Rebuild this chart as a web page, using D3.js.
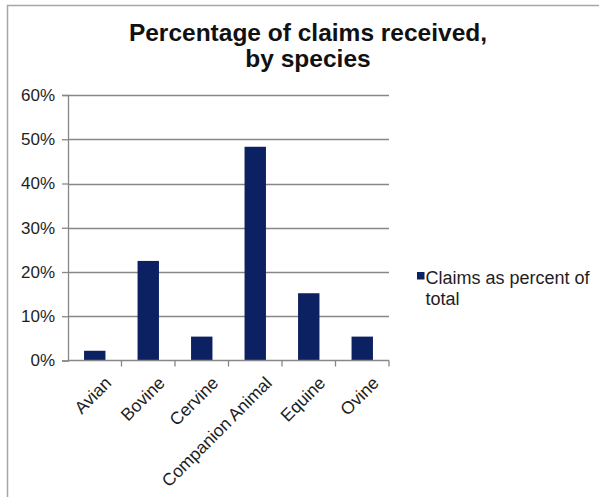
<!DOCTYPE html>
<html>
<head>
<meta charset="utf-8">
<script src="https://cdn.jsdelivr.net/npm/d3@7"></script>
<style>
  html, body { margin: 0; padding: 0; background: #fff; }
  svg { display: block; font-family: "Liberation Sans", Arial, sans-serif; }
</style>
</head>
<body>
<svg id="chart" width="599" height="497"></svg>
<script>
// Share of claims received, by species
const categories = ["Avian", "Bovine", "Cervine", "Companion Animal", "Equine", "Ovine"];
const claimShare = [2.2, 22.5, 5.4, 48.3, 15.2, 5.4];
const yTicks = [0, 10, 20, 30, 40, 50, 60];
const seriesName = "Claims as percent of total";
const titleLines = ["Percentage of claims received,", "by species"];

const svg = d3.select("#chart");
const barColor = "#0b2161";
const gridColor = "#878787";
const textColor = "#1e1e1e";

// chart frame
svg.append("rect")
  .attr("x", 7.5).attr("y", 5.5)
  .attr("width", 620).attr("height", 520)
  .attr("fill", "none").attr("stroke", "#a6a6a6").attr("stroke-width", 1.5);

const plot = { left: 68, right: 389, top: 95, bottom: 360.5 };

const x = d3.scaleBand().domain(categories)
  .range([plot.left, plot.right]).paddingInner(0.6).paddingOuter(0.3);
const xEdges = d3.scaleLinear().domain([0, categories.length]).range([plot.left, plot.right]);
const y = d3.scaleLinear().domain([0, 60]).range([plot.bottom, plot.top]);

// gridlines
svg.append("g")
  .selectAll("line").data(yTicks.filter(t => t > 0)).join("line")
  .attr("x1", plot.left).attr("x2", plot.right)
  .attr("y1", d => Math.round(y(d)) + 0.5).attr("y2", d => Math.round(y(d)) + 0.5)
  .attr("stroke", gridColor).attr("stroke-width", 1.3);

// bars
svg.append("g")
  .selectAll("rect").data(categories).join("rect")
  .attr("x", d => x(d))
  .attr("width", x.bandwidth())
  .attr("y", (d, i) => y(claimShare[i]))
  .attr("height", (d, i) => y(0) - y(claimShare[i]))
  .attr("fill", barColor);

// y axis
const yAxis = svg.append("g")
  .attr("transform", `translate(${plot.left},0)`)
  .call(d3.axisLeft(y).tickValues(yTicks).tickFormat(d => d + "%").tickSizeOuter(0).tickSize(6).tickPadding(7));
yAxis.select(".domain").attr("stroke", gridColor).attr("stroke-width", 1.3);
yAxis.selectAll(".tick line").attr("stroke", gridColor).attr("stroke-width", 1.3);
yAxis.selectAll(".tick text").attr("font-size", 17).attr("fill", textColor)
  .attr("font-family", "Liberation Sans, Arial, sans-serif");

// x axis with ticks between categories
const xAxisG = svg.append("g").attr("transform", `translate(0,${plot.bottom})`);
xAxisG.append("line")
  .attr("x1", plot.left).attr("x2", plot.right)
  .attr("stroke", gridColor).attr("stroke-width", 1.3);
xAxisG.selectAll("line.tk").data(d3.range(1, categories.length + 1)).join("line")
  .attr("class", "tk")
  .attr("x1", d => xEdges(d)).attr("x2", d => xEdges(d))
  .attr("y1", 0).attr("y2", 6)
  .attr("stroke", gridColor).attr("stroke-width", 1.3);
xAxisG.selectAll("text").data(categories).join("text")
  .attr("transform", d => `translate(${x(d) + x.bandwidth() / 2 + 9},${15}) rotate(-45)`)
  .attr("text-anchor", "end")
  .attr("dy", "0.7em")
  .attr("font-size", 17.5).attr("fill", textColor)
  .text(d => d);

// title
svg.append("text")
  .attr("text-anchor", "middle")
  .attr("font-size", 24.5).attr("font-weight", "bold").attr("fill", "#111")
  .selectAll("tspan").data(titleLines).join("tspan")
  .attr("x", 308).attr("y", (d, i) => 41 + i * 26)
  .text(d => d);

// legend
const legend = svg.append("g").attr("transform", "translate(417,272)");
legend.append("rect").attr("x", 0).attr("y", 0).attr("width", 7.5).attr("height", 7.5).attr("fill", barColor);
const words = seriesName.split(" ");
legend.append("text")
  .attr("font-size", 18).attr("fill", textColor)
  .selectAll("tspan").data([words.slice(0, 4).join(" "), words.slice(4).join(" ")]).join("tspan")
  .attr("x", 8.5).attr("y", (d, i) => 12 + i * 21)
  .text(d => d);
</script>
</body>
</html>
